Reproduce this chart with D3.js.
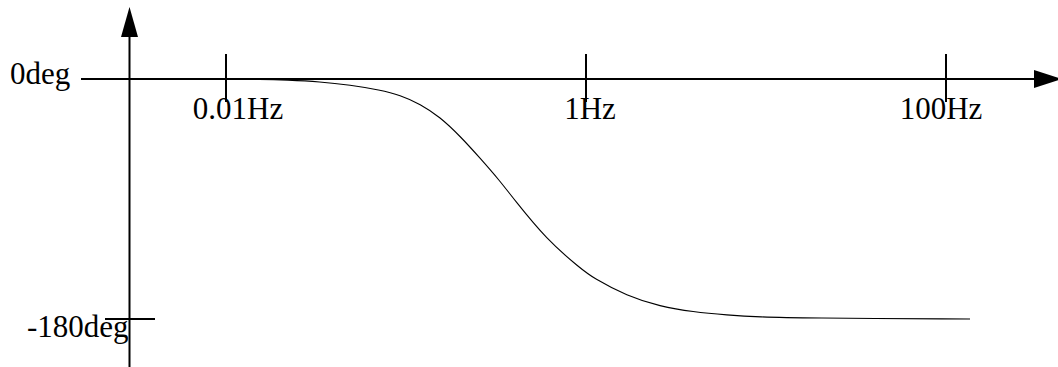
<!DOCTYPE html>
<html>
<head>
<meta charset="utf-8">
<script src="https://cdn.jsdelivr.net/npm/d3@7"></script>
<style>
  body { margin: 0; background: #fff; }
  text { font-family: "Liberation Serif", "Times New Roman", serif; fill: #000; }
</style>
</head>
<body>
<div id="chart"></div>
<script>
// phase response
const freqs = [0.01, 0.0155, 0.0218, 0.0333, 0.0489, 0.0718, 0.0927, 0.12, 0.1545, 0.1995, 0.2577, 0.3328, 0.3928, 0.6067, 0.9266, 1.094, 1.69, 2.58, 3.93, 6.07, 9.27, 15.5, 136];
const phase = [0, -0.2, -0.75, -2, -4.5, -8.25, -12, -18.75, -28.5, -42.75, -59.25, -76.5, -89.25, -120.75, -141.75, -149.25, -162.75, -170.6, -174.75, -177, -178.5, -179.3, -180];

const freqTicks = [0.01, 1, 100];
const freqLabels = ['0.01Hz', '1Hz', '100Hz'];
const phaseTicks = [0, -180];
const phaseLabels = ['0deg', '-180deg'];

function drawPhasePlot() {
    const width = 1058;
    const height = 367;

    const svg = d3.select('#chart').append('svg')
        .attr('width', width)
        .attr('height', height);

    const x = d3.scaleLog()
        .domain([0.01, 100])
        .range([226, 946]);

    const y = d3.scaleLinear()
        .domain([0, -180])
        .range([79, 319]);

    const axisX = 129.5;
    const labelShift = [12, 4, -5];  // labels aren't centred on their ticks in the original

    // horizontal axis + arrow
    svg.append('line')
        .attr('x1', 81).attr('x2', 1036)
        .attr('y1', y(0)).attr('y2', y(0))
        .attr('stroke', '#000').attr('stroke-width', 2);
    svg.append('path')
        .attr('d', `M1034,${y(0) - 9} L1062,${y(0)} L1034,${y(0) + 9} Z`)
        .attr('fill', '#000');

    // vertical axis + arrow
    svg.append('line')
        .attr('x1', axisX).attr('x2', axisX)
        .attr('y1', 36).attr('y2', height)
        .attr('stroke', '#000').attr('stroke-width', 2);
    svg.append('path')
        .attr('d', `M${axisX - 8.5},37 L${axisX},7 L${axisX + 8.5},37 Z`)
        .attr('fill', '#000');

    // frequency ticks
    svg.selectAll('.f-tick')
        .data(freqTicks)
        .enter()
        .append('line')
        .attr('class', 'f-tick')
        .attr('x1', d => x(d)).attr('x2', d => x(d))
        .attr('y1', 54).attr('y2', 102)
        .attr('stroke', '#000').attr('stroke-width', 2);

    svg.selectAll('.f-label')
        .data(freqTicks)
        .enter()
        .append('text')
        .attr('class', 'f-label')
        .attr('x', (d, i) => x(d) + labelShift[i])
        .attr('y', 119)
        .attr('text-anchor', 'middle')
        .style('font-size', '31px')
        .text((d, i) => freqLabels[i]);

    // -180 tick (0 sits on the horizontal axis)
    svg.append('line')
        .attr('x1', 105).attr('x2', 155)
        .attr('y1', y(-180)).attr('y2', y(-180))
        .attr('stroke', '#000').attr('stroke-width', 2);

    svg.selectAll('.p-label')
        .data(phaseTicks)
        .enter()
        .append('text')
        .attr('class', 'p-label')
        .attr('x', (d, i) => i === 0 ? 10 : 27)
        .attr('y', d => y(d) + (d === 0 ? 5 : 18))
        .style('font-size', '31px')
        .text((d, i) => phaseLabels[i]);

    // curve (basis smooths out reading noise)
    const line = d3.line()
        .x((d, i) => x(freqs[i]))
        .y(d => y(d))
        .curve(d3.curveBasis);

    svg.append('path')
        .datum(phase)
        .attr('d', line)
        .attr('fill', 'none')
        .attr('stroke', '#000')
        .attr('stroke-width', 1.1);
}

drawPhasePlot();
</script>
</body>
</html>
